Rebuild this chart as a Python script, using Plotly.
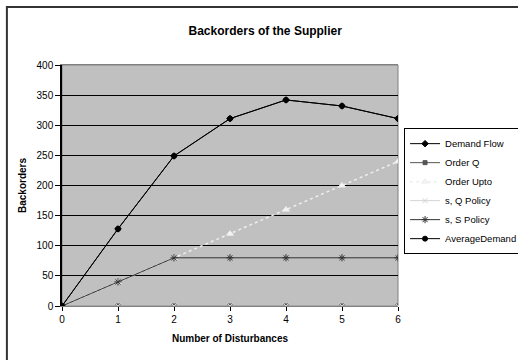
import plotly.graph_objects as go

disturbances = [0, 1, 2, 3, 4, 5, 6]
demand_flow = [0, 128, 249, 311, 342, 332, 311]
order_q = [0, 0, 0, 0, 0, 0, 0]
order_upto = [0, 40, 80, 120, 160, 200, 240]
sq_policy = [0, 0, 0, 0, 0, 0, 0]
ss_policy = [0, 40, 80, 80, 80, 80, 80]
average_demand = [0, 128, 249, 311, 342, 332, 311]

y_ticks = [0, 50, 100, 150, 200, 250, 300, 350, 400]

FONT = "Liberation Sans, Arial, sans-serif"

fig = go.Figure()

series = [
    ("Demand Flow", demand_flow, "#000000", "diamond", 5, "solid", None),
    ("Order Q", order_q, "#555555", "square", 4, "solid", None),
    ("Order Upto", order_upto, "#EEEEEE", "triangle-up", 6, "dot", "#F4F4F4"),
    ("s, Q Policy", sq_policy, "#D4D4D4", "x-thin", 5, "solid", None),
    ("s, S Policy", ss_policy, "#333333", "asterisk", 6, "solid", None),
    ("AverageDemand", average_demand, "#000000", "circle", 5, "solid", None),
]

for name, vals, color, symbol, size, dash, fill in series:
    fig.add_trace(go.Scatter(
        x=disturbances, y=vals, name=name, mode="lines+markers",
        line=dict(color=color, width=1 if dash == "solid" else 1.5, dash=dash),
        marker=dict(symbol=symbol, size=size, color=fill or color,
                    line=dict(color=color, width=1)),
    ))

fig.update_layout(
    width=518, height=360,
    margin=dict(l=62, r=120, t=65, b=54, autoexpand=False),
    paper_bgcolor="white",
    plot_bgcolor="#C0C0C0",
    font=dict(family=FONT, size=10, color="black"),
    title=dict(text="<b>Backorders of the Supplier</b>", x=0.512, xanchor="center",
               y=0.915, yanchor="middle", font=dict(size=12, family=FONT)),
    xaxis=dict(range=[0, 6], tickvals=disturbances, ticks="outside", ticklen=4,
               tickcolor="black", showgrid=False, zeroline=False,
               showline=True, linecolor="#808080", mirror=True,
               title=dict(text="<b>Number of Disturbances</b>", standoff=10,
                          font=dict(size=10, family=FONT))),
    yaxis=dict(range=[0, 400], tickvals=y_ticks, ticks="outside", ticklen=5,
               tickcolor="black", showgrid=True, gridcolor="black", gridwidth=1,
               zeroline=False, showline=True, linecolor="black", linewidth=1.5,
               title=dict(text="<b>Backorders</b>", standoff=8,
                          font=dict(size=10, family=FONT))),
    legend=dict(x=1.018, y=0.738, xanchor="left", yanchor="top",
                bgcolor="white", bordercolor="black", borderwidth=1,
                font=dict(size=9.5, family=FONT), tracegroupgap=0,
                itemwidth=30),
    showlegend=True,
)

# right and top edges of the plot area drawn in gray
fig.add_shape(type="rect", xref="paper", yref="paper", x0=0, x1=1, y0=0, y1=1,
              line=dict(color="#808080", width=1), layer="below")
# outer chart frame
fig.add_shape(type="rect", xref="paper", yref="paper",
              x0=-0.164, x1=1.45, y0=-0.3, y1=1.241,
              line=dict(color="#333333", width=2))

fig.write_html("out.html")
